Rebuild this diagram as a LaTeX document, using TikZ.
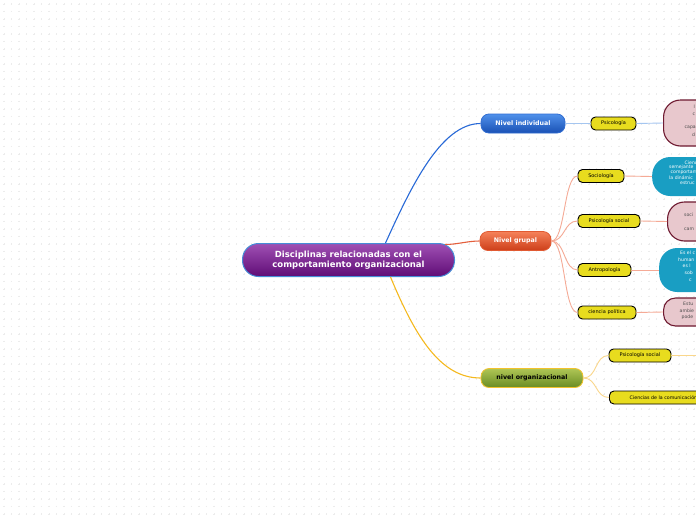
\documentclass[tikz,border=0pt]{standalone}
\usepackage{fontspec}
\setmainfont{DejaVu Sans}
\definecolor{purT}{RGB}{160,80,180}
\definecolor{purB}{RGB}{95,12,118}
\definecolor{purD}{RGB}{70,140,215}
\definecolor{bluT}{RGB}{80,145,235}
\definecolor{bluB}{RGB}{25,80,180}
\definecolor{bluD}{RGB}{50,110,210}
\definecolor{oraT}{RGB}{245,130,90}
\definecolor{oraB}{RGB}{205,62,25}
\definecolor{oraD}{RGB}{225,90,50}
\definecolor{grnT}{RGB}{175,198,85}
\definecolor{grnB}{RGB}{105,140,35}
\definecolor{grnD}{RGB}{242,195,45}
\definecolor{leafY}{RGB}{232,220,30}
\definecolor{tealC}{RGB}{25,158,195}
\definecolor{pinkC}{RGB}{232,200,205}
\definecolor{pinkD}{RGB}{110,25,48}
\definecolor{lnBlue}{RGB}{40,105,215}
\definecolor{lnBlueL}{RGB}{165,198,240}
\definecolor{lnOra}{RGB}{228,95,60}
\definecolor{lnOraL}{RGB}{245,170,150}
\definecolor{lnYel}{RGB}{245,185,30}
\definecolor{lnYelL}{RGB}{250,215,140}
\definecolor{gridC}{RGB}{236,236,236}
\begin{document}
\begin{tikzpicture}[x=1pt,y=-1pt,
  mainbox/.style={draw=purD, line width=1pt, top color=purT, bottom color=purB, rounded corners=16pt,
     minimum width=212pt, minimum height=33pt, text=white, align=center, inner sep=0pt,
     font=\fontsize{8.5}{10}\selectfont\bfseries},
  lvl/.style={line width=0.8pt, rounded corners=8pt, minimum height=19pt, inner sep=0pt,
     font=\fontsize{6.3}{7}\selectfont\bfseries},
  leaf/.style={draw=black, line width=0.9pt, fill=leafY, rounded corners=4.5pt, minimum height=13pt,
     inner sep=0pt, font=\fontsize{5}{6}\selectfont},
  pinkbox/.style={draw=pinkD, line width=1.1pt, fill=pinkC, rounded corners=17pt, minimum width=90pt, inner sep=0pt},
  tealbox/.style={fill=tealC, rounded corners=18pt, minimum width=90pt, inner sep=0pt},
  frag/.style={anchor=west, inner sep=0pt, font=\fontsize{4.6}{5}\selectfont},
  conn/.style={line width=#1},
  conn/.default=0.9pt]
\useasboundingbox (0,0) rectangle (696,520);
\clip (0,0) rectangle (696,520);
\fill[white] (0,0) rectangle (696,520);
% faint grid of plus marks
\foreach \gx in {4,11.5,...,696} {
  \foreach \gy in {4,11.5,...,520} {
    \draw[gridC, line width=0.3pt] (\gx-0.8,\gy) -- (\gx+0.8,\gy) (\gx,\gy-0.8) -- (\gx,\gy+0.8);
  }
}

% ---------- nodes ----------
\node[mainbox] (central) at (348.5,260) {Disciplinas relacionadas con el\\comportamiento organizacional};

\node[lvl, draw=bluD, top color=bluT, bottom color=bluB, text=white, minimum width=84pt] (ind) at (523,123.5) {Nivel individual};
\node[lvl, draw=oraD, top color=oraT, bottom color=oraB, text=white, minimum width=71pt] (grp) at (515.5,241) {Nivel grupal};
\node[lvl, draw=grnD, top color=grnT, bottom color=grnB, text=black, minimum width=102pt] (org) at (532,378) {nivel organizacional};

\node[leaf, minimum width=45pt] (psi) at (613.5,123.5) {Psicología};
\node[leaf, minimum width=46pt] (soc) at (601,176) {Sociología};
\node[leaf, minimum width=62pt] (psoc) at (609,221) {Psicología social};
\node[leaf, minimum width=53pt] (ant) at (604.5,270) {Antropología};
\node[leaf, minimum width=58pt] (pol) at (607,312.5) {ciencia política};
\node[leaf, minimum width=62pt] (opsoc) at (640,355.5) {Psicología social};
\node[leaf, minimum width=100pt, anchor=west, font=\fontsize{4.75}{6}\selectfont] (ocom) at (609,397.5) {\hspace{8pt}Ciencias de la comunicación\hfill};
\coordinate (edge) at (700,355.5);

\node[pinkbox, minimum height=46pt, anchor=west] (p1) at (663,123) {};
\node[tealbox, minimum height=39pt, anchor=west] (t1) at (652,176.5) {};
\node[pinkbox, minimum height=39pt, anchor=west] (p2) at (667,221.5) {};
\node[tealbox, minimum height=44pt, anchor=west] (t2) at (659,270) {};
\node[pinkbox, minimum height=28pt, rounded corners=12pt, anchor=west] (p3) at (663,312) {};

% text fragments at the right edge
\node[frag, text=black!70] (f1a) at (693.5,107) {l};
\node[frag, text=black!70] (f1b) at (692.5,114) {c};
\node[frag, text=black!70] (f1c) at (684.5,127.5) {capa};
\node[frag, text=black!70] (f1d) at (692,134.5) {d};

\node[frag, text=white] (f2a) at (684.5,162.5) {Cienci};
\node[frag, text=white] (f2b) at (669,167.5) {semejante};
\node[frag, text=white] (f2c) at (670.5,172.5) {comportam};
\node[frag, text=white] (f2d) at (669,177.5) {la dinámic};
\node[frag, text=white] (f2e) at (680,182.5) {estruc};

\node[frag, text=black!70] (f3a) at (684,215) {soci};
\node[frag, text=black!70] (f3b) at (684,229) {cam};

\node[frag, text=white] (f4a) at (680,253) {Es el c};
\node[frag, text=white] (f4b) at (678,259.5) {human};
\node[frag, text=white] (f4c) at (682.5,266) {es l};
\node[frag, text=white] (f4d) at (684.5,273) {sob};
\node[frag, text=white] (f4e) at (689,280) {c};

\node[frag, text=black!70] (f5a) at (683,304) {Estu};
\node[frag, text=black!70] (f5b) at (679.5,310.5) {ambie};
\node[frag, text=black!70] (f5c) at (681.5,317) {pode};

% ---------- connectors ----------
\draw[lnBlue, conn=1.1pt] ([xshift=37pt]central.north) .. controls +(25,-55) and +(-40,0) .. (ind.west);
\draw[lnOra, conn=1.1pt] ([yshift=-1.5pt]central.north east) ++(-10,0) .. controls +(12,0) and +(-12,0) .. (grp.west);
\draw[lnYel, conn=1.1pt] ([xshift=42pt]central.south) .. controls +(25,60) and +(-40,0) .. (org.west);

\draw[lnBlueL, conn] (ind.east) -- (psi.west);
\draw[lnBlueL, conn] (psi.east) -- (p1.west);

\foreach \t in {soc,psoc,ant,pol} {
  \draw[lnOraL, conn] (grp.east) .. controls +(14,0) and +(-14,0) .. (\t.west);
}
\draw[lnOraL, conn] (soc.east) -- (t1.west);
\draw[lnOraL, conn] (psoc.east) -- (p2.west);
\draw[lnOraL, conn] (ant.east) -- (t2.west);
\draw[lnOraL, conn] (pol.east) -- (p3.west);

\draw[lnYelL, conn] (org.east) .. controls +(14,0) and +(-14,0) .. (opsoc.west);
\draw[lnYelL, conn] (org.east) .. controls +(14,0) and +(-14,0) .. (ocom.west);
\draw[lnYelL, conn] (opsoc.east) -- (edge);
\end{tikzpicture}
\end{document}
